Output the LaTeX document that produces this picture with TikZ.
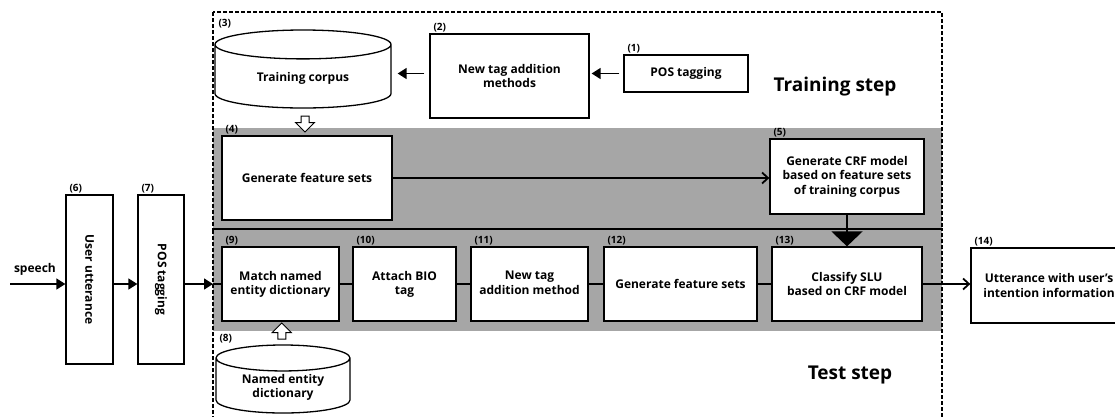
\documentclass[tikz,border=0pt]{standalone}
\usepackage{fontspec}
\setmainfont{Open Sans}
\usetikzlibrary{arrows.meta}
\usetikzlibrary{shapes.geometric}
\usetikzlibrary{shapes.arrows}
\usetikzlibrary{calc}

\begin{document}
\begin{tikzpicture}[x=1pt,y=-1pt,
    box/.style={draw,line width=1.3pt,fill=white,align=center,inner sep=2pt,
      font=\bfseries\fontsize{12}{14.5}\selectfont},
    db/.style={cylinder,shape border rotate=90,draw,line width=1.3pt,fill=white,
      aspect=0.3,inner sep=2pt,anchor=shape center,align=center,
      font=\bfseries\fontsize{12}{14.5}\selectfont},
    num/.style={anchor=south west,inner sep=1pt,xshift=3pt,
      font=\bfseries\fontsize{10}{11}\selectfont},
    frame/.style={line width=1.2pt,dash pattern=on 4pt off 2pt},
    band/.style={fill=gray!70},
    link/.style={line width=1.8pt},
    tri/.style={-{Triangle[length=9pt,width=11pt]},line width=1.6pt},
    barb/.style={-{Straight Barb[length=6pt,width=11pt]},line width=1.8pt},
    blk/.style={single arrow,draw,fill=white,line width=1pt,inner sep=3.5pt,
      single arrow head extend=5.5pt,minimum height=16pt},
    title/.style={font=\bfseries\fontsize{19}{22}\selectfont}
  ]
  \useasboundingbox (0,0) rectangle (1115,416);

  % shaded rows and the two step frames
  \fill[band] (213,128) rectangle (942,228);
  \fill[band] (213,230) rectangle (942,331);
  \draw[frame] (213,12) rectangle (942,229);
  \draw[frame] (213,420) -- (213,229) -- (942,229) -- (942,420);
  \node[title] (trn) at (835,87) {Training step};
  \node[title] (tst) at (850,375) {Test step};

  % training step
  \node[box,minimum width=124pt,minimum height=37pt,label={[num]north west:(1)}]
    (pos1) at (686,73.5) {POS tagging};
  \node[box,minimum width=159pt,minimum height=84pt,label={[num]north west:(2)}]
    (ntam) at (509.5,76) {New tag addition\\methods};
  \node[db,minimum width=176pt,minimum height=78pt]
    (corpus) at (303,69) {Training corpus};
  \node[num] (n3) at (corpus.west |- corpus.north) {(3)};
  \node[box,minimum width=170pt,minimum height=84pt,label={[num]north west:(4)}]
    (feat) at (307,178) {Generate feature sets};
  \node[box,minimum width=154pt,minimum height=75pt,label={[num]north west:(5)}]
    (crf) at (847,176.5) {Generate CRF model\\based on feature sets\\of training corpus};

  % input side
  \coordinate (speech) at (10,284);
  \node[box,minimum width=47pt,minimum height=169pt,label={[num]north west:(6)}]
    (utt) at (89.5,279.5) {\rotatebox{-90}{User utterance}};
  \node[box,minimum width=46pt,minimum height=169pt,label={[num]north west:(7)}]
    (pos2) at (161,279.5) {\rotatebox{-90}{POS tagging}};

  % test step
  \node[box,minimum width=117pt,minimum height=74pt,label={[num]north west:(9)}]
    (match) at (280.5,284) {Match named\\entity dictionary\\[-12pt]};
  \node[box,minimum width=103pt,minimum height=74pt,label={[num]north west:(10)}]
    (bio) at (404.5,284) {Attach BIO\\tag\\[-12pt]};
  \node[box,minimum width=117pt,minimum height=74pt,label={[num]north west:(11)}]
    (ntam2) at (529.5,284) {New tag\\addition method\\[-12pt]};
  \node[box,minimum width=153pt,minimum height=74pt,label={[num]north west:(12)}]
    (feat2) at (680.5,284) {Generate feature sets};
  \node[box,minimum width=150pt,minimum height=74pt,label={[num]north west:(13)}]
    (slu) at (847,284) {Classify SLU\\based on CRF model};
  \node[box,minimum width=156pt,minimum height=75pt,label={[num]north west:(14)}]
    (out) at (1049,285.5) {Utterance with user’s\\intention information};
  \node[db,minimum width=134pt,minimum height=68pt]
    (ned) at (283,379) {Named entity\\dictionary};
  \node[num] (n8) at (ned.west |- ned.north) {(8)};

  % block arrows
  \node[blk,shape border rotate=270] (a34) at ($(corpus.south)!0.5!(feat.north)$) {};
  \node[blk,shape border rotate=90] (a89) at ($(ned.north)!0.5!(match.south)$) {};

  % connectors
  \draw[tri,shorten <=4pt,shorten >=2pt] (pos1.west) -- (pos1.west -| ntam.east);
  \draw[tri,shorten <=5pt,shorten >=6pt] (ntam.west |- pos1.west) -- (pos1.west -| corpus.east);
  \draw[barb] (feat.east) -- (feat.east -| crf.west);
  \draw[line width=1.6pt,-{Triangle[length=15pt,width=31pt]}] (crf) -- (slu);

  \draw[tri] (speech) -- (speech -| utt.west)
    node[pos=0.45,above=4pt,font=\bfseries\fontsize{12}{13}\selectfont] {speech};
  \draw[tri] (utt.east |- speech) -- (speech -| pos2.west);
  \coordinate (tin) at (213,284);
  \draw[tri] (pos2.east |- speech) -- (tin);
  \draw[link] (tin) -- (match.west);
  \draw[link] (match) -- (bio) -- (ntam2) -- (feat2) -- (slu);
  \draw[barb] (slu.east) -- (slu.east -| out.west);
\end{tikzpicture}
\end{document}
